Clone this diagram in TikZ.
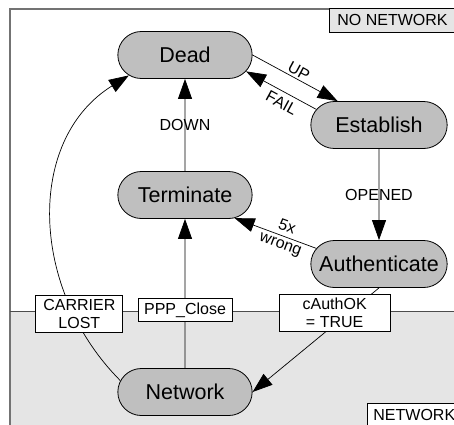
\documentclass[tikz,border=0pt]{standalone}
\usepackage{fontspec}
\setmainfont{Liberation Sans}
\usetikzlibrary{arrows.meta,shapes.misc}

\tikzset{
	state/.style={rounded rectangle, draw, line width=0.8pt, fill=black!25,
		minimum width=141pt, minimum height=47pt, font=\fontsize{21.5}{25}\selectfont},
	lbl/.style={draw, line width=0.8pt, fill=white, inner xsep=6pt, inner ysep=4pt,
		align=center, font=\fontsize{16}{18}\selectfont},
	txt/.style={align=center, inner sep=2pt, font=\fontsize{16}{18}\selectfont},
	zone/.style={draw, line width=0.8pt, anchor=north west, inner xsep=8pt,
		minimum height=24pt, font=\fontsize{16}{18}\selectfont},
	trans/.style={-{Triangle[length=20pt,width=14pt]}, line width=0.7pt}
}

\begin{document}
\begin{tikzpicture}[x=1pt,y=-1pt]
	\useasboundingbox (0,0) rectangle (454,424);
	\clip (0,0) rectangle (454,424);
	% the two zones
	\fill[black!10] (10,311) rectangle (470,440);
	\draw[black!55, line width=2pt] (10,9) rectangle (470,440);
	\draw[black!70, line width=0.8pt] (10,311) -- (470,311);
	\node[zone, fill=black!10] (nonet) at (329,8) {NO NETWORK};
	\node[zone, fill=white, inner xsep=6pt] (net) at (367,403) {NETWORK};
	% states
	\node[state] (dead) at (185,55) {Dead};
	\node[state, minimum width=143pt] (establish) at (379,125) {Establish};
	\node[state] (terminate) at (185,195) {Terminate};
	\node[state, minimum width=143pt] (authenticate) at (379,264) {Authenticate};
	\node[state] (network) at (185,392) {Network};
	% transitions
	\draw[trans] (dead.east) -- node[txt, sloped, above] {UP} (establish.150);
	\draw[trans] (establish.166) -- node[txt, sloped, below, pos=0.42, yshift=-3pt] {FAIL} (dead.345);
	\draw[trans] (terminate) -- node[txt] {DOWN} (dead);
	\draw[trans] (establish) -- node[txt] {OPENED} (authenticate);
	\draw[trans] (authenticate.166) -- node[txt, sloped, pos=0.4] {5x\\wrong} (terminate.335);
	\draw[trans] (network) -- node[lbl, pos=0.39] {PPP\_Close} (terminate);
	\draw[trans] (authenticate.south) -- node[lbl, pos=0.24, xshift=-14pt, minimum width=111pt] {cAuthOK\\= TRUE} (network.east);
	\draw[trans] (network.170) .. controls (30,290) and (25,140) .. node[lbl, pos=0.22, xshift=6pt, minimum width=87pt] {CARRIER\\LOST} (dead.200);
\end{tikzpicture}
\end{document}
